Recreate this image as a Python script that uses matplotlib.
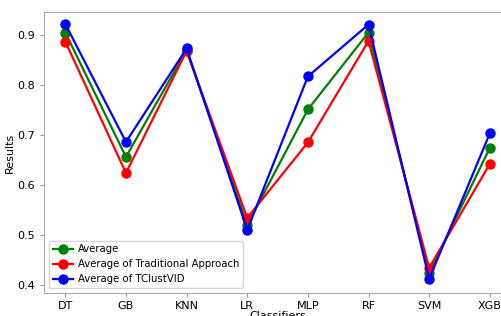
import matplotlib.pyplot as plt

classifiers = ['DT', 'GB', 'KNN', 'LR', 'MLP', 'RF', 'SVM', 'XGB']
average = [0.905, 0.656, 0.870, 0.520, 0.751, 0.905, 0.424, 0.674]
traditional = [0.887, 0.624, 0.868, 0.534, 0.685, 0.888, 0.434, 0.642]
tclustvid = [0.922, 0.686, 0.873, 0.510, 0.817, 0.921, 0.412, 0.703]

fig = plt.figure(figsize=(5.01, 3.16), dpi=100)
ax = fig.add_axes([0.088, 0.073, 0.932, 0.889])

ax.plot(classifiers, average, color='green', marker='o', lw=1.6, ms=6.5, label='Average')
ax.plot(classifiers, traditional, color='red', marker='o', lw=1.6, ms=6.5, label='Average of Traditional Approach')
ax.plot(classifiers, tclustvid, color='blue', marker='o', lw=1.6, ms=6.5, label='Average of TClustVID')

ax.set_xlim(-0.35, 7.35)
ax.set_ylim(0.384, 0.946)
ax.set_yticks([0.4, 0.5, 0.6, 0.7, 0.8, 0.9])
ax.set_xlabel('Classifiers', fontsize=8, labelpad=0)
ax.set_ylabel('Results', fontsize=8, labelpad=2)
ax.tick_params(labelsize=8, color='#999999', length=3)
ax.tick_params(axis='x', pad=2.5)
for s in ax.spines.values():
    s.set_color('#aaaaaa')

ax.legend(loc='lower left', fontsize=7.3, handlelength=2.0, handletextpad=0.5,
          borderpad=0.35, labelspacing=0.5)

fig.savefig('out.png', dpi=100)
